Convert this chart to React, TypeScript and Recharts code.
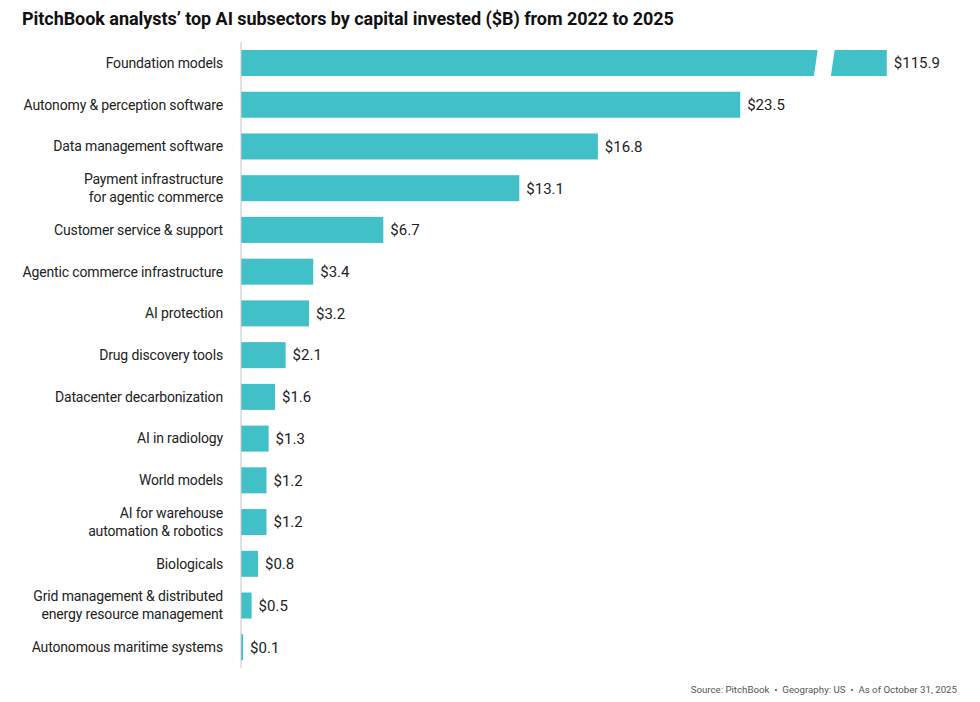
import { BarChart, Bar, XAxis, YAxis, LabelList } from 'recharts';

const CATEGORIES = [
  'Foundation models',
  'Autonomy & perception software',
  'Data management software',
  'Payment infrastructure\nfor agentic commerce',
  'Customer service & support',
  'Agentic commerce infrastructure',
  'AI protection',
  'Drug discovery tools',
  'Datacenter decarbonization',
  'AI in radiology',
  'World models',
  'AI for warehouse\nautomation & robotics',
  'Biologicals',
  'Grid management & distributed\nenergy resource management',
  'Autonomous maritime systems',
];

const VALUES = [115.9, 23.5, 16.8, 13.1, 6.7, 3.4, 3.2, 2.1, 1.6, 1.3, 1.2, 1.2, 0.8, 0.5, 0.1];

// bars longer than this are drawn broken
const BREAK_CAP = 30.4;

const data = CATEGORIES.map((name, i) => ({
  name,
  value: VALUES[i],
  shown: Math.min(VALUES[i], BREAK_CAP),
  broken: VALUES[i] > BREAK_CAP,
}));

const FONT = 'Roboto, "Noto Sans", sans-serif';
const TEAL = '#42C0C7';

const CategoryTick = (props: any) => {
  const { x, y, payload } = props;
  const lines = String(payload.value).split('\n');
  const lh = 18;
  const start = -((lines.length - 1) * lh) / 2;
  return (
    <text x={x} y={y} textAnchor="end" fill="#222" fontSize={14} letterSpacing={-0.15} fontFamily={FONT}>
      {lines.map((l, i) => (
        <tspan key={i} x={x} dy={i === 0 ? start + 5 : lh}>
          {l}
        </tspan>
      ))}
    </text>
  );
};

const BrokenBar = (props: any) => {
  const { x, y, width, height, payload } = props;
  const end = x + width;
  return (
    <g>
      <rect x={x} y={y} width={width} height={height} fill={TEAL} />
      {payload.broken && (
        <polygon
          points={`${end - 69},${y - 1} ${end - 52},${y - 1} ${end - 56},${y + height + 1} ${end - 73},${y + height + 1}`}
          fill="#fff"
        />
      )}
    </g>
  );
};

export default function App() {
  return (
    <div style={{ position: 'relative', width: 980, height: 702, background: '#fff', fontFamily: FONT }}>
      <style>{'body{margin:0}'}</style>
      <div
        style={{
          position: 'absolute',
          left: 22,
          top: 8,
          fontSize: 18,
          fontWeight: 700,
          color: '#111',
          letterSpacing: -0.05,
          whiteSpace: 'nowrap',
        }}
      >
        PitchBook analysts’ top AI subsectors by capital invested ($B) from 2022 to 2025
      </div>
      <BarChart
        width={980}
        height={702}
        layout="vertical"
        data={data}
        margin={{ top: 42, right: 38, bottom: 34, left: 0 }}
        barCategoryGap={0}
      >
        <XAxis type="number" hide domain={[0, 33]} allowDataOverflow />
        <YAxis
          type="category"
          dataKey="name"
          width={241}
          tickSize={0}
          tickMargin={18}
          tickLine={false}
          axisLine={{ stroke: '#c4c4c4', strokeWidth: 1 }}
          tick={<CategoryTick />}
          interval={0}
        />
        <Bar dataKey="shown" barSize={26} fill={TEAL} shape={<BrokenBar />} isAnimationActive={false}>
          <LabelList
            dataKey="value"
            position="right"
            offset={7}
            fill="#222"
            fontSize={15}
            fontFamily={FONT}
            formatter={(v: any) => `$${Number(v).toFixed(1)}`}
          />
        </Bar>
      </BarChart>
      <div
        style={{
          position: 'absolute',
          right: 23,
          top: 684,
          fontSize: 9.7,
          color: '#555',
          whiteSpace: 'nowrap',
        }}
      >
        Source: PitchBook &nbsp;•&nbsp; Geography: US &nbsp;•&nbsp; As of October 31, 2025
      </div>
    </div>
  );
}
